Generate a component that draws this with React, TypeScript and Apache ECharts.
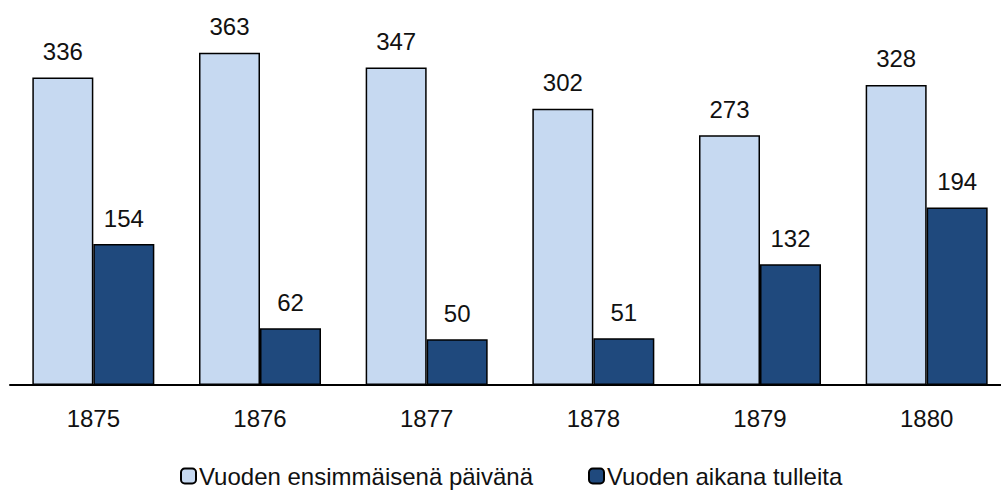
import React, { useEffect, useRef } from "react";
import * as echarts from "echarts";

const categories = ["1875", "1876", "1877", "1878", "1879", "1880"];
const seriesNames = ["Vuoden ensimmäisenä päivänä", "Vuoden aikana tulleita"];
const firstDay = [336, 363, 347, 302, 273, 328];
const duringYear = [154, 62, 50, 51, 132, 194];

const FONT = "'Liberation Sans', Arial, sans-serif";
const FS = 24;

export default function App() {
  const ref = useRef<HTMLDivElement>(null);
  useEffect(() => {
    if (!ref.current) return;
    const chart = echarts.init(ref.current, undefined, { renderer: "svg" });
    const labelStyle = {
      show: true,
      position: "top" as const,
      distance: 14,
      fontSize: FS,
      fontFamily: FONT,
      color: "#111",
    };
    chart.setOption({
      animation: false,
      backgroundColor: "#fff",
      textStyle: { fontFamily: FONT },
      grid: { left: 10, right: 0, top: 19, bottom: 105, containLabel: false },
      legend: {
        bottom: 2,
        left: 180,
        padding: 0,
        itemWidth: 15,
        itemHeight: 15,
        itemGap: 55,
        textStyle: { fontSize: FS, fontFamily: FONT, color: "#111", padding: [0, 0, 0, -2] },
        data: seriesNames,
      },
      xAxis: {
        type: "category",
        data: categories,
        axisLine: { show: true, lineStyle: { color: "#000", width: 2 } },
        axisTick: { show: false },
        axisLabel: { fontSize: FS, fontFamily: FONT, color: "#111", margin: 21 },
      },
      yAxis: {
        type: "value",
        min: 0,
        max: 400,
        show: false,
        splitLine: { show: false },
      },
      series: [
        {
          name: seriesNames[0],
          type: "bar",
          data: firstDay,
          barWidth: 61,
          barGap: "0%",
          itemStyle: { color: "#C6D9F1", borderColor: "#000", borderWidth: 1.5 },
          label: labelStyle,
        },
        {
          name: seriesNames[1],
          type: "bar",
          data: duringYear,
          barWidth: 61,
          barGap: "0%",
          itemStyle: { color: "#1F497D", borderColor: "#000", borderWidth: 1.5 },
          label: labelStyle,
        },
      ],
    });
    return () => chart.dispose();
  }, []);
  return (
    <div style={{ position: "fixed", left: 0, top: 0, width: 1001, height: 490, overflow: "hidden", background: "#fff" }}>
      <div ref={ref} style={{ width: 1010, height: 490 }} />
    </div>
  );
}
